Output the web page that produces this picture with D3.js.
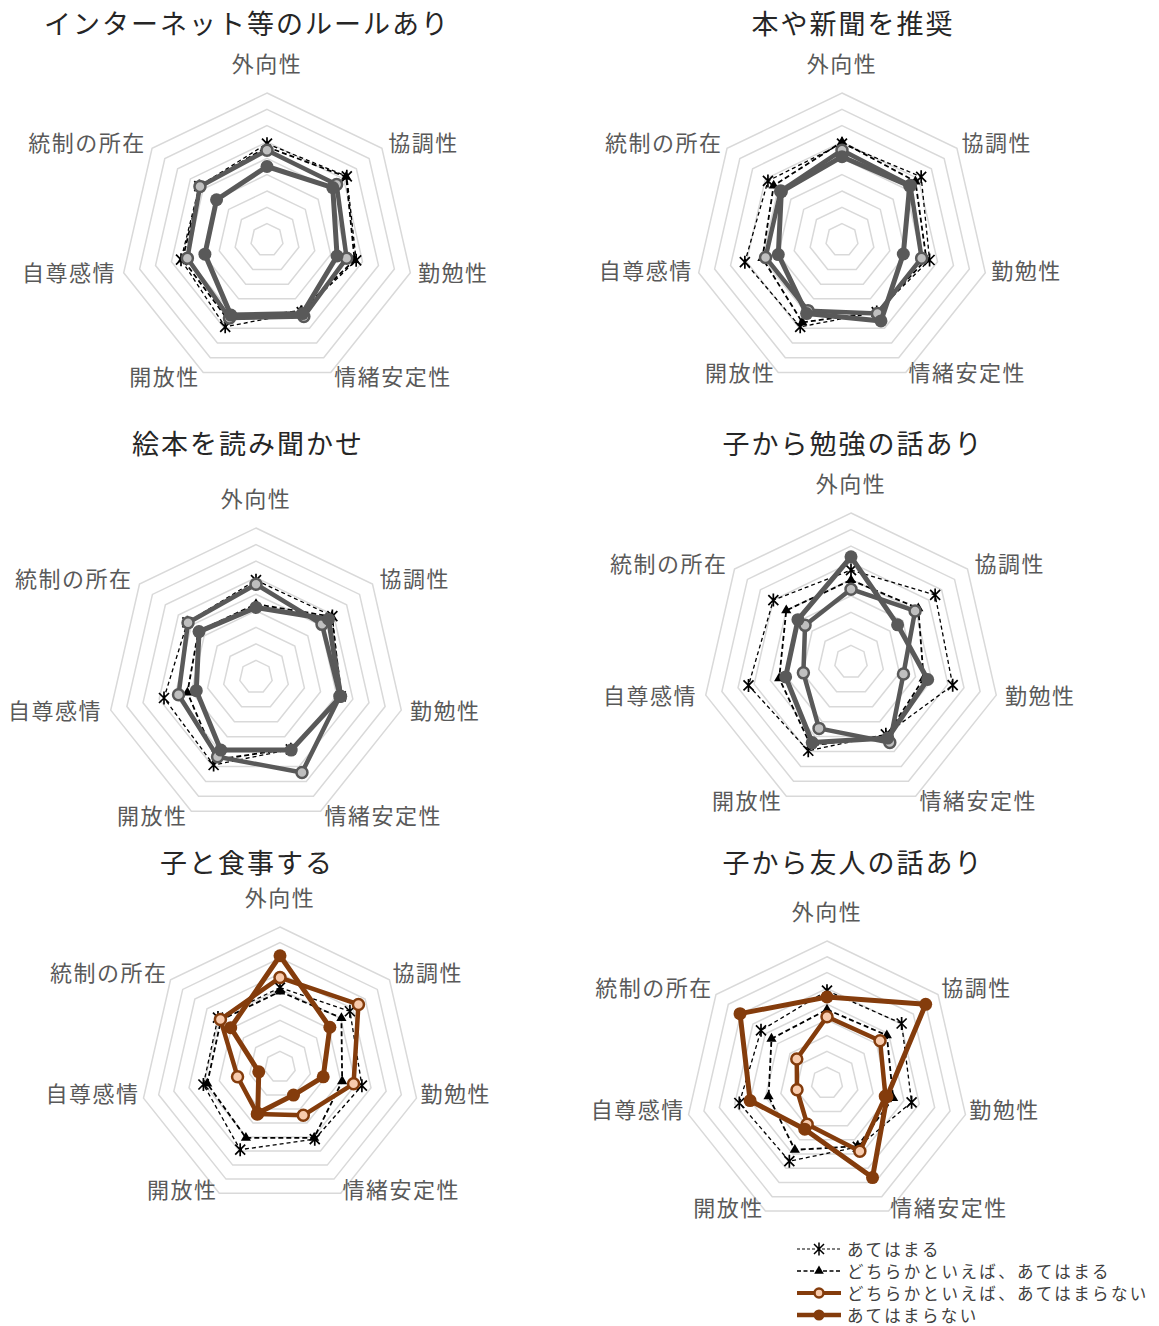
<!DOCTYPE html>
<html>
<head>
<meta charset="utf-8">
<script src="https://cdn.jsdelivr.net/npm/d3@7"></script>
<style>
  body { margin: 0; background: #fff; }
  text { font-family: "Noto Sans CJK JP", "Noto Sans", sans-serif; }
</style>
</head>
<body>
<script>
// axes (clockwise from top) and series
var axes = ["外向性", "協調性", "勤勉性", "情緒安定性", "開放性", "自尊感情", "統制の所在"];
var seriesNames = ["あてはまる", "どちらかといえば、あてはまる", "どちらかといえば、あてはまらない", "あてはまらない"];
var titles = ["インターネット等のルールあり", "本や新聞を推奨", "絵本を読み聞かせ", "子から勉強の話あり", "子と食事する", "子から友人の話あり"];
var ringTicks = [1, 2, 3, 4, 5, 6, 7, 8, 9];

// values in grid units, one row per series (same order as seriesNames)
var internetRule = [
  [5.9, 6.25, 5.6, 4.9, 5.9, 5.4, 5.3],
  [5.7, 6.2, 5.5, 4.8, 5.45, 5.3, 5.25],
  [5.5, 5.45, 5.0, 5.2, 5.3, 5.0, 5.25],
  [4.5, 5.15, 4.4, 5.0, 5.1, 3.9, 3.95]
];
var booksNews = [
  [5.9, 6.2, 5.5, 4.9, 5.9, 6.1, 5.8],
  [6.0, 5.75, 5.3, 4.9, 5.6, 5.0, 5.35],
  [5.5, 5.35, 5.0, 5.0, 4.8, 4.8, 4.8],
  [5.1, 5.3, 3.85, 5.5, 5.0, 4.0, 4.75]
];
var pictureBook = [
  [5.85, 5.9, 5.25, 4.85, 5.9, 5.7, 5.3],
  [4.4, 5.85, 5.3, 4.8, 5.55, 4.25, 4.45],
  [5.6, 5.1, 5.2, 6.4, 5.35, 4.8, 5.25],
  [4.2, 5.6, 5.25, 4.9, 4.9, 3.7, 4.4]
];
var studyTalk = [
  [5.55, 6.5, 6.3, 4.85, 5.95, 6.35, 6.0],
  [4.95, 5.2, 4.5, 4.95, 5.6, 4.45, 5.0],
  [4.4, 4.95, 3.25, 5.4, 4.45, 2.95, 3.55],
  [6.35, 3.6, 4.75, 5.1, 5.4, 4.05, 4.1]
];
var mealTogether = [
  [5.1, 5.75, 5.4, 5.15, 5.9, 5.05, 5.1],
  [4.85, 5.05, 4.1, 5.05, 5.05, 4.8, 4.85],
  [5.75, 6.45, 4.85, 3.45, 3.35, 2.8, 4.9],
  [7.15, 4.1, 2.85, 2.0, 3.3, 1.4, 4.05]
];
var friendTalk = [
  [5.85, 6.05, 5.5, 4.5, 5.5, 5.7, 5.35],
  [4.65, 4.85, 4.3, 4.45, 4.7, 3.8, 4.5],
  [4.2, 4.3, 3.8, 4.8, 2.9, 1.95, 2.45],
  [5.45, 8.0, 3.9, 6.65, 3.25, 5.0, 7.05]
];
var chartData = [internetRule, booksNews, pictureBook, studyTalk, mealTogether, friendTalk];

// layout of each panel (lo = label offset from outer ring, ldy = label shift)
var panels = [
  {cx: 267, cy: 240, r: 147, lo: 8, ldy: 0, tx: 247, ty: 22, color: "#595959", fill: "#bfbfbf"},
  {cx: 842, cy: 240, r: 147, lo: 6, ldy: -2, tx: 853, ty: 22, color: "#595959", fill: "#bfbfbf"},
  {cx: 256, cy: 677, r: 149, lo: 9, ldy: 0, tx: 248, ty: 442, color: "#595959", fill: "#bfbfbf"},
  {cx: 851, cy: 662, r: 149, lo: 9, ldy: 0, tx: 853, ty: 442, color: "#595959", fill: "#bfbfbf"},
  {cx: 280, cy: 1067, r: 140, lo: 4, ldy: -4, tx: 247, ty: 861, color: "#843c0c", fill: "#f8cbad"},
  {cx: 827, cy: 1083, r: 142, lo: 4, ldy: -4, tx: 853, ty: 861, color: "#843c0c", fill: "#f8cbad"}
];

var W = 1159, H = 1326;
var n = axes.length;
var step = 2 * Math.PI / n;
var starPath = "M-5,-5L5,5M-5,5L5,-5M0,-6.5L0,6.5";

var svg = d3.select("body").append("svg")
  .attr("width", W)
  .attr("height", H);

panels.forEach(function(p, ci) {
  var rScale = d3.scaleLinear().domain([0, 9]).range([0, p.r]);
  var g = svg.append("g").attr("transform", "translate(" + p.cx + "," + p.cy + ")");

  var radial = d3.lineRadial()
    .angle(function(d, i) { return i * step; })
    .radius(function(d) { return rScale(d); })
    .curve(d3.curveLinearClosed);

  // grid rings
  g.selectAll(".ring")
    .data(ringTicks)
    .enter()
    .append("path")
    .attr("d", function(t) { return radial(axes.map(function() { return t; })); })
    .attr("fill", "none")
    .attr("stroke", "#d9d9d9")
    .attr("stroke-width", 1.5);

  // axis labels
  g.selectAll(".lab")
    .data(axes)
    .enter()
    .append("text")
    .attr("x", function(d, i) {
      return Math.sin(i * step) * (p.r + p.lo);
    })
    .attr("y", function(d, i) {
      if (i == 0) return -(p.r + 31);
      var y = -Math.cos(i * step) * (p.r + p.lo) + p.ldy;
      if (i == 1 || i == 6) y -= 2;
      if (i == 2 || i == 5) y -= 3;
      if (i == 3 || i == 4) y -= 5;
      return y;
    })
    .attr("text-anchor", function(d, i) {
      var s = Math.sin(i * step);
      return Math.abs(s) < 0.1 ? "middle" : (s > 0 ? "start" : "end");
    })
    .attr("dominant-baseline", "central")
    .attr("font-size", 22)
    .attr("letter-spacing", 1.5)
    .attr("fill", "#595959")
    .text(function(d) { return d; });

  // title
  svg.append("text")
    .attr("x", p.tx)
    .attr("y", p.ty)
    .attr("text-anchor", "middle")
    .attr("dominant-baseline", "central")
    .attr("font-size", 27)
    .attr("letter-spacing", 2)
    .attr("fill", "#262626")
    .text(titles[ci]);

  var data = chartData[ci];
  function pt(v, i) {
    return [Math.sin(i * step) * rScale(v), -Math.cos(i * step) * rScale(v)];
  }

  // series 0: thin dashed + star
  g.append("path")
    .attr("d", radial(data[0]))
    .attr("fill", "none")
    .attr("stroke", "#000")
    .attr("stroke-width", 1.3)
    .attr("stroke-dasharray", "4,3");
  g.selectAll(".s0")
    .data(data[0])
    .enter()
    .append("path")
    .attr("transform", function(d, i) { return "translate(" + pt(d, i) + ")"; })
    .attr("d", starPath)
    .attr("stroke", "#000")
    .attr("stroke-width", 1.7)
    .attr("fill", "none");

  // series 1: dashed + triangle
  g.append("path")
    .attr("d", radial(data[1]))
    .attr("fill", "none")
    .attr("stroke", "#000")
    .attr("stroke-width", 1.8)
    .attr("stroke-dasharray", "5,3");
  g.selectAll(".s1")
    .data(data[1])
    .enter()
    .append("path")
    .attr("transform", function(d, i) { return "translate(" + pt(d, i) + ")"; })
    .attr("d", d3.symbol().type(d3.symbolTriangle).size(45))
    .attr("fill", "#000");

  // series 2: thick line + hollow circle
  g.append("path")
    .attr("d", radial(data[2]))
    .attr("fill", "none")
    .attr("stroke", p.color)
    .attr("stroke-width", 4.5)
    .attr("stroke-linejoin", "round");
  g.selectAll(".s2")
    .data(data[2])
    .enter()
    .append("circle")
    .attr("cx", function(d, i) { return pt(d, i)[0]; })
    .attr("cy", function(d, i) { return pt(d, i)[1]; })
    .attr("r", 5.5)
    .attr("fill", p.fill)
    .attr("stroke", p.color)
    .attr("stroke-width", 2.5);

  // series 3: thick line + filled circle
  g.append("path")
    .attr("d", radial(data[3]))
    .attr("fill", "none")
    .attr("stroke", p.color)
    .attr("stroke-width", 5)
    .attr("stroke-linejoin", "round");
  g.selectAll(".s3")
    .data(data[3])
    .enter()
    .append("circle")
    .attr("cx", function(d, i) { return pt(d, i)[0]; })
    .attr("cy", function(d, i) { return pt(d, i)[1]; })
    .attr("r", 6.5)
    .attr("fill", p.color);
});

// legend
var legendColor = "#843c0c";
var lg = svg.append("g").attr("transform", "translate(797,1249)");
seriesNames.forEach(function(name, i) {
  var row = lg.append("g").attr("transform", "translate(0," + (i * 22) + ")");
  var line = row.append("line")
    .attr("x1", 0).attr("x2", 44)
    .attr("y1", 0).attr("y2", 0);
  if (i == 0) {
    line.attr("stroke", "#000").attr("stroke-width", 1.2).attr("stroke-dasharray", "3,2");
    row.append("path").attr("transform", "translate(22,0)").attr("d", starPath)
      .attr("stroke", "#000").attr("stroke-width", 1.5).attr("fill", "none");
  } else if (i == 1) {
    line.attr("stroke", "#000").attr("stroke-width", 1.6).attr("stroke-dasharray", "4,2.5");
    row.append("path").attr("transform", "translate(22,0)")
      .attr("d", d3.symbol().type(d3.symbolTriangle).size(40)).attr("fill", "#000");
  } else if (i == 2) {
    line.attr("stroke", legendColor).attr("stroke-width", 4);
    row.append("circle").attr("cx", 22).attr("cy", 0).attr("r", 4.5)
      .attr("fill", "#f8cbad").attr("stroke", legendColor).attr("stroke-width", 2.5);
  } else {
    line.attr("stroke", legendColor).attr("stroke-width", 4.5);
    row.append("circle").attr("cx", 22).attr("cy", 0).attr("r", 5.5).attr("fill", legendColor);
  }
  row.append("text")
    .attr("x", 50)
    .attr("y", 0)
    .attr("dominant-baseline", "central")
    .attr("font-size", 16.5)
    .attr("letter-spacing", 2.4)
    .attr("fill", "#404040")
    .text(name);
});
</script>
</body>
</html>
